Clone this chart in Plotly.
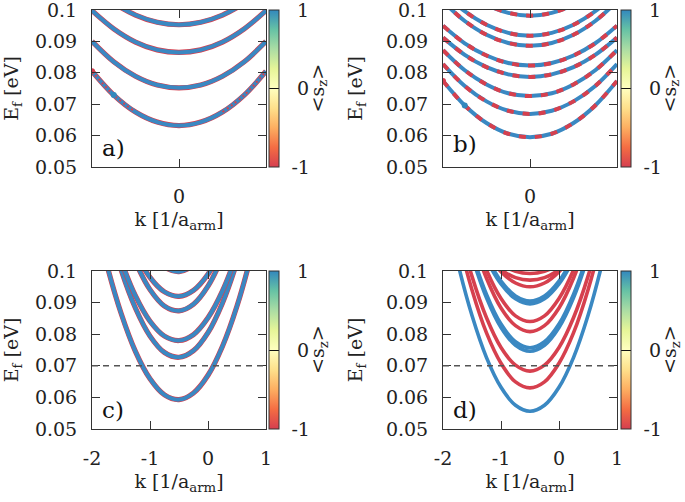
import plotly.graph_objects as go

# ---------------- data ----------------
K_AB = [-1.0, -0.75, -0.5, -0.25, 0.0, 0.25, 0.5, 0.75, 1.0]
K_CD = [-2.0, -1.75, -1.5, -1.25, -1.0, -0.75, -0.5, -0.25, 0.0, 0.25, 0.5, 0.75, 1.0]

A_BANDS = [
    [0.0805, 0.0729, 0.0675, 0.0643, 0.0632, 0.0643, 0.0675, 0.0729, 0.0805],
    [0.0900, 0.0835, 0.0789, 0.0761, 0.0752, 0.0761, 0.0789, 0.0835, 0.0900],
    [0.0998, 0.0940, 0.0898, 0.0873, 0.0865, 0.0873, 0.0898, 0.0940, 0.0998],
    [0.1075, 0.1022, 0.0984, 0.0961, 0.0953, 0.0961, 0.0984, 0.1022, 0.1075],
]

B_BANDS = [
    [0.0774, 0.0696, 0.0640, 0.0606, 0.0595, 0.0606, 0.0640, 0.0696, 0.0774],
    [0.0828, 0.0758, 0.0709, 0.0679, 0.0669, 0.0679, 0.0709, 0.0758, 0.0828],
    [0.0872, 0.0808, 0.0763, 0.0735, 0.0726, 0.0735, 0.0763, 0.0808, 0.0872],
    [0.0912, 0.0857, 0.0818, 0.0795, 0.0787, 0.0795, 0.0818, 0.0857, 0.0912],
    [0.0950, 0.0894, 0.0855, 0.0831, 0.0823, 0.0831, 0.0855, 0.0894, 0.0950],
    [0.1027, 0.0965, 0.0921, 0.0895, 0.0886, 0.0895, 0.0921, 0.0965, 0.1027],
    [0.1056, 0.0996, 0.0953, 0.0927, 0.0918, 0.0927, 0.0953, 0.0996, 0.1056],
    [0.1121, 0.1060, 0.1017, 0.0991, 0.0982, 0.0991, 0.1017, 0.1060, 0.1121],
]

C_BANDS = [
    [0.1217, 0.1024, 0.0867, 0.0745, 0.0659, 0.0608, 0.0593, 0.0614, 0.0670, 0.0762, 0.0889, 0.1053, 0.1251],
    [0.1362, 0.1166, 0.1005, 0.0882, 0.0794, 0.0742, 0.0727, 0.0748, 0.0805, 0.0899, 0.1029, 0.1195, 0.1397],
    [0.1360, 0.1181, 0.1034, 0.0921, 0.0841, 0.0794, 0.0780, 0.0799, 0.0852, 0.0937, 0.1056, 0.1207, 0.1392],
    [0.1509, 0.1313, 0.1152, 0.1029, 0.0941, 0.0889, 0.0874, 0.0895, 0.0952, 0.1046, 0.1176, 0.1342, 0.1544],
    [0.1489, 0.1313, 0.1170, 0.1059, 0.0980, 0.0934, 0.0920, 0.0939, 0.0990, 0.1074, 0.1190, 0.1339, 0.1521],
    [0.1633, 0.1437, 0.1276, 0.1153, 0.1065, 0.1013, 0.0998, 0.1019, 0.1076, 0.1170, 0.1300, 0.1466, 0.1668],
]

D_BANDS = [
    [0.1238, 0.1029, 0.0859, 0.0726, 0.0632, 0.0575, 0.0556, 0.0575, 0.0632, 0.0726, 0.0859, 0.1029, 0.1238],
    [0.1328, 0.1114, 0.0940, 0.0804, 0.0708, 0.0649, 0.0630, 0.0649, 0.0708, 0.0804, 0.0940, 0.1114, 0.1328],
    [0.1358, 0.1152, 0.0983, 0.0852, 0.0758, 0.0702, 0.0683, 0.0702, 0.0758, 0.0852, 0.0983, 0.1152, 0.1358],
    [0.1421, 0.1215, 0.1046, 0.0915, 0.0821, 0.0765, 0.0746, 0.0765, 0.0821, 0.0915, 0.1046, 0.1215, 0.1421],
    [0.1432, 0.1226, 0.1057, 0.0926, 0.0832, 0.0776, 0.0757, 0.0776, 0.0832, 0.0926, 0.1057, 0.1226, 0.1432],
    [0.1483, 0.1277, 0.1108, 0.0977, 0.0883, 0.0827, 0.0808, 0.0827, 0.0883, 0.0977, 0.1108, 0.1277, 0.1483],
    [0.1493, 0.1293, 0.1130, 0.1003, 0.0913, 0.0858, 0.0840, 0.0858, 0.0913, 0.1003, 0.1130, 0.1293, 0.1493],
    [0.1459, 0.1287, 0.1146, 0.1037, 0.0959, 0.0912, 0.0896, 0.0912, 0.0959, 0.1037, 0.1146, 0.1287, 0.1459],
    [0.1468, 0.1296, 0.1155, 0.1046, 0.0968, 0.0921, 0.0905, 0.0921, 0.0968, 0.1046, 0.1155, 0.1296, 0.1468],
    [0.1378, 0.1247, 0.1140, 0.1057, 0.0998, 0.0962, 0.0950, 0.0962, 0.0998, 0.1057, 0.1140, 0.1247, 0.1378],
    [0.1264, 0.1174, 0.1101, 0.1044, 0.1004, 0.0979, 0.0971, 0.0979, 0.1004, 0.1044, 0.1101, 0.1174, 0.1264],
    [0.1262, 0.1180, 0.1112, 0.1060, 0.1022, 0.0999, 0.0992, 0.0999, 0.1022, 0.1060, 0.1112, 0.1180, 0.1262],
]
D_SPIN = [1, -1, -1, 1, 1, -1, -1, 1, 1, -1, -1, -1]

E_RANGE = [0.05, 0.1]
E_TICKS = [0.05, 0.06, 0.07, 0.08, 0.09, 0.1]
E_TICKTEXT = ["0.05", "0.06", "0.07", "0.08", "0.09", "0.1"]
K_RANGE_AB = [-1.0, 1.0]
K_TICKS_AB = [0]
K_TICKTEXT_AB = ["0"]
K_RANGE_CD = [-2.0, 1.0]
K_TICKS_CD = [-2, -1, 0, 1]
K_TICKTEXT_CD = ["-2", "-1", "0", "1"]
SZ_RANGE = [-1, 1]
SZ_TICKS = [-1, 0, 1]
SZ_TICKTEXT = ["\u2009\u2009-1", "\u2002\u20090", "\u2002\u20091"]
EF_LINE = 0.07
PANEL_LABELS = ["a)", "b)", "c)", "d)"]

# ---------------- style ----------------
W, H = 685, 502
FONT = "DejaVu Serif"
FS = 19
RED = "#d6404e"
BLUE = "#3a88c2"
AX = "#333333"
TXT = "#222222"
SPECTRAL = [
    [0.0, "#d53e4f"], [0.125, "#f46d43"], [0.25, "#fdae61"], [0.375, "#fee08b"],
    [0.5, "#ffffbf"], [0.625, "#e6f598"], [0.75, "#abdda4"], [0.875, "#66c2a5"],
    [1.0, "#3288bd"],
]

# panel pixel boxes: (left, right, top, bottom)
BOX = {
    1: (92, 266, 10, 167),
    2: (443, 617, 10, 167),
    3: (92, 266, 271, 429),
    4: (443, 617, 271, 429),
}
CB_X = {1: 269, 2: 621, 3: 269, 4: 621}

fig = go.Figure()


def ax_names(i):
    return ("x" if i == 1 else f"x{i}"), ("y" if i == 1 else f"y{i}")


def line(i, x, y, color, width, dash="solid"):
    xa, ya = ax_names(i)
    fig.add_trace(go.Scatter(
        x=x, y=y, mode="lines", xaxis=xa, yaxis=ya,
        line=dict(color=color, width=width, shape="spline", smoothing=1.0, dash=dash),
        hoverinfo="skip", showlegend=False))


# a)
for band in A_BANDS:
    line(1, K_AB, band, RED, 5.2)
    line(1, K_AB, band, BLUE, 4.0)
outer_x = [k if abs(k) >= 0.5 else None for k in K_AB]
outer_y = [e if abs(k) >= 0.5 else None for k, e in zip(K_AB, A_BANDS[0])]
line(1, outer_x, outer_y, RED, 2.0, dash="2px,3px")

# b)
for band in B_BANDS:
    line(2, K_AB, band, BLUE, 4.0)
    line(2, K_AB, band, RED, 4.0, dash="7px,9px")

# c)
for band in C_BANDS:
    line(3, K_CD, band, RED, 5.2)
    line(3, K_CD, band, BLUE, 4.0)

# d)
for band, s in zip(D_BANDS, D_SPIN):
    line(4, K_CD, band, BLUE if s > 0 else RED, 3.6)

# colorbars (one per panel), carried by invisible markers
for i, (kx, bands) in zip([1, 2, 3, 4], [(K_AB, A_BANDS), (K_AB, B_BANDS), (K_CD, C_BANDS), (K_CD, D_BANDS)]):
    xa, ya = ax_names(i)
    l, r, t, b = BOX[i]
    fig.add_trace(go.Scatter(
        x=kx[:2], y=bands[0][:2], mode="markers", xaxis=xa, yaxis=ya,
        marker=dict(size=0, color=SZ_RANGE, cmin=SZ_RANGE[0], cmax=SZ_RANGE[1],
                    colorscale=SPECTRAL, showscale=True,
                    colorbar=dict(
                        x=CB_X[i] / W, xanchor="left", xref="paper",
                        y=1 - (t + b) / 2 / H, yanchor="middle", yref="paper",
                        len=b - t, lenmode="pixels",
                        thickness=10, thicknessmode="pixels",
                        xpad=0, ypad=0, outlinewidth=1, outlinecolor=AX,
                        ticks="inside", ticklen=10, tickcolor="#111", tickwidth=1,
                        tickvals=SZ_TICKS, ticktext=SZ_TICKTEXT,
                        ticklabeloverflow="allow",
                        tickfont=dict(family=FONT, size=FS, color=TXT),
                    )),
        hoverinfo="skip", showlegend=False))

layout = dict(
    width=W, height=H, margin=dict(l=0, r=0, t=0, b=0, autoexpand=False),
    paper_bgcolor="white", plot_bgcolor="white",
    font=dict(family=FONT, size=FS, color=TXT),
    showlegend=False,
)
annotations = []
shapes = []
for i in [1, 2, 3, 4]:
    l, r, t, b = BOX[i]
    xa, ya = ax_names(i)
    xkey = "xaxis" if i == 1 else f"xaxis{i}"
    ykey = "yaxis" if i == 1 else f"yaxis{i}"
    common = dict(showline=True, linecolor=AX, linewidth=1, mirror="allticks",
                  ticks="inside", ticklen=8, tickwidth=1, tickcolor=AX,
                  showgrid=False, zeroline=False, ticklabeloverflow="allow",
                  tickfont=dict(family=FONT, size=FS, color=TXT))
    if i <= 2:
        xr, xt, xtt = K_RANGE_AB, K_TICKS_AB, K_TICKTEXT_AB
    else:
        xr, xt, xtt = K_RANGE_CD, K_TICKS_CD, K_TICKTEXT_CD
    layout[xkey] = dict(domain=[l / W, r / W], anchor=ya, range=xr,
                        tickmode="array", tickvals=xt, ticktext=xtt,
                        ticklabelstandoff=12,
                        title=dict(text="k [1/a<sub>arm</sub>]", standoff=6,
                                   font=dict(family=FONT, size=FS, color=TXT)),
                        **common)
    layout[ykey] = dict(domain=[1 - b / H, 1 - t / H], anchor=xa, range=E_RANGE,
                        tickmode="array", tickvals=E_TICKS, ticktext=E_TICKTEXT,
                        ticklabelstandoff=10,
                        title=dict(text="E<sub>f</sub> [eV]", standoff=18,
                                   font=dict(family=FONT, size=FS, color=TXT)),
                        **common)
    annotations.append(dict(text=PANEL_LABELS[i - 1], xref=f"{xa} domain", yref=f"{ya} domain",
                            x=0.045, y=0.12 if i != 2 else 0.145, xanchor="left", yanchor="middle",
                            showarrow=False, font=dict(family=FONT, size=23, color="#111")))
    # colour-bar title
    annotations.append(dict(text="&lt;s<sub>z</sub>&gt;", xref="paper", yref="paper",
                            x=(CB_X[i] + 49) / W, y=1 - (t + b) / 2 / H,
                            xanchor="center", yanchor="middle", textangle=-90,
                            showarrow=False, font=dict(family=FONT, size=FS, color=TXT)))
    # Fermi level line
    if i >= 3:
        shapes.append(dict(type="line", xref=f"{xa} domain", yref=ya, x0=0, x1=1,
                           y0=EF_LINE, y1=EF_LINE,
                           line=dict(color="#555", width=1.5, dash="6px,5px")))

layout["annotations"] = annotations
layout["shapes"] = shapes
fig.update_layout(**layout)
fig.write_html("out.html", config={"displayModeBar": False},
               post_script="document.body.style.margin='0px';")
